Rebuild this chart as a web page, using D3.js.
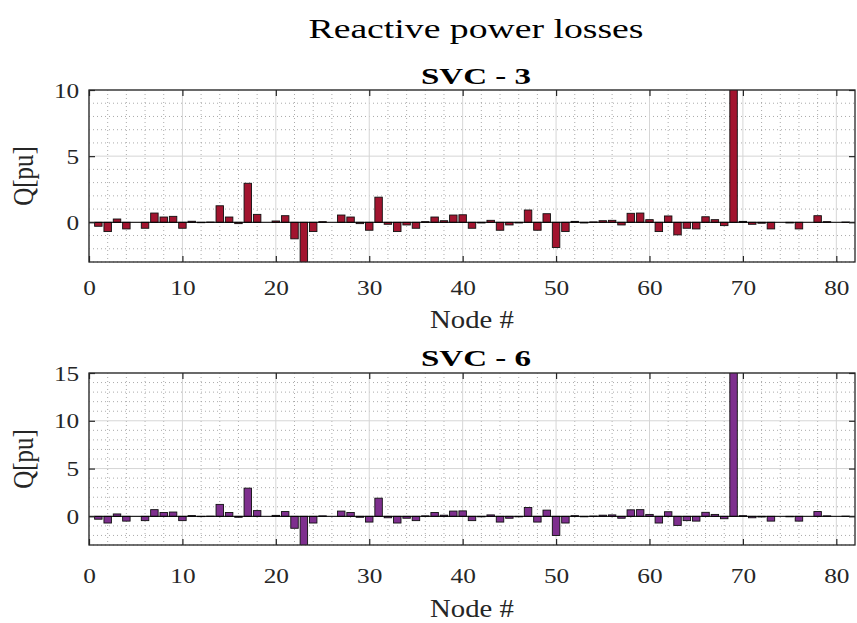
<!DOCTYPE html>
<html>
<head>
<meta charset="utf-8">
<script src="https://cdn.jsdelivr.net/npm/d3@7"></script>
<style>
  body { margin: 0; background: #fff; }
  svg text { font-family: 'Liberation Serif', 'Times New Roman', serif; }
</style>
</head>
<body>
<div id="chart"></div>
<script>
// node numbers 1..81
const nodes = d3.range(1, 82);

// reactive power losses per node
const svc3Values = [
  -0.3, -0.7, 0.25, -0.5, 0, -0.45, 0.7, 0.4, 0.45, -0.45,
  0.08, -0.03, 0.02, 1.25, 0.4, -0.1, 2.95, 0.6, 0, 0.1,
  0.5, -1.25, -3.3, -0.7, 0.05, 0, 0.55, 0.4, -0.1, -0.6,
  1.9, -0.15, -0.7, -0.2, -0.45, 0.05, 0.4, 0.12, 0.55, 0.57,
  -0.45, -0.05, 0.15, -0.6, -0.2, -0.05, 0.93, -0.6, 0.65, -1.9,
  -0.7, 0.07, -0.05, 0.03, 0.12, 0.15, -0.2, 0.68, 0.7, 0.2,
  -0.7, 0.48, -0.95, -0.45, -0.5, 0.42, 0.2, -0.25, 10.6, 0.07,
  -0.15, -0.07, -0.5, 0, -0.05, -0.5, 0, 0.5, 0.05, 0,
  0.02
];

const svc6Values = [
  -0.3, -0.7, 0.25, -0.5, 0, -0.45, 0.7, 0.4, 0.45, -0.45,
  0.08, -0.03, 0.02, 1.25, 0.4, -0.1, 2.95, 0.6, 0, 0.1,
  0.5, -1.25, -3.3, -0.7, 0.05, 0, 0.55, 0.4, -0.1, -0.6,
  1.9, -0.15, -0.7, -0.2, -0.45, 0.05, 0.4, 0.12, 0.55, 0.57,
  -0.45, -0.05, 0.15, -0.6, -0.2, -0.05, 0.93, -0.6, 0.65, -2.0,
  -0.7, 0.07, -0.05, 0.03, 0.12, 0.15, -0.2, 0.68, 0.7, 0.2,
  -0.7, 0.48, -0.95, -0.45, -0.5, 0.42, 0.2, -0.25, 15.6, 0.07,
  -0.15, -0.07, -0.5, 0, -0.05, -0.5, 0, 0.5, 0.05, 0,
  0.02
];

const xTicks = [0, 10, 20, 30, 40, 50, 60, 70, 80];
const svc3YTicks = [0, 5, 10];
const svc6YTicks = [0, 5, 10, 15];

const width = 857;
const height = 623;
const stretch = 1.15; // the reference text is a bit wide
const axisColor = '#262626';

const svg = d3.select('#chart').append('svg')
  .attr('width', width)
  .attr('height', height);

// main title
svg.append('text')
  .attr('x', 476).attr('y', 38)
  .attr('text-anchor', 'middle')
  .attr('font-size', 27)
  .attr('textLength', 335)
  .attr('lengthAdjust', 'spacingAndGlyphs')
  .text('Reactive power losses');

const x = d3.scaleLinear().domain([0, 82]).range([89, 855]);
const barWidth = 0.8 * (x(1) - x(0));

const panels = [
  { id: 'p3', title: 'SVC - 3', values: svc3Values, yDomain: [-3, 10], yTicks: svc3YTicks,
    color: '#A2142F', top: 90, bottom: 262, titleBase: 84, tickBase: 295, labelBase: 328 },
  { id: 'p6', title: 'SVC - 6', values: svc6Values, yDomain: [-3, 15], yTicks: svc6YTicks,
    color: '#7E2F8E', top: 373, bottom: 545, titleBase: 366, tickBase: 583, labelBase: 617 }
];

panels.forEach((p) => {
  const y = d3.scaleLinear().domain(p.yDomain).range([p.bottom, p.top]);
  const g = svg.append('g');
  const left = x.range()[0], right = x.range()[1];

  g.append('clipPath').attr('id', 'clip-' + p.id)
    .append('rect')
    .attr('x', left).attr('y', p.top)
    .attr('width', right - left).attr('height', p.bottom - p.top);

  // minor grid (dotted)
  const minorX = d3.range(2, 82, 2).filter((v) => v % 10 !== 0);
  const minorY = d3.range(p.yDomain[0], p.yDomain[1] + 1, 1).filter((v) => v % 5 !== 0);
  g.selectAll('.mx').data(minorX).join('line')
    .attr('x1', (d) => x(d)).attr('x2', (d) => x(d))
    .attr('y1', p.top).attr('y2', p.bottom)
    .attr('stroke', '#a0a0a0').attr('stroke-width', 0.9)
    .attr('stroke-dasharray', '1,3');
  g.selectAll('.my').data(minorY).join('line')
    .attr('x1', left).attr('x2', right)
    .attr('y1', (d) => y(d)).attr('y2', (d) => y(d))
    .attr('stroke', '#a0a0a0').attr('stroke-width', 0.9)
    .attr('stroke-dasharray', '1,3');

  // major grid
  g.selectAll('.gx').data(xTicks).join('line')
    .attr('x1', (d) => x(d)).attr('x2', (d) => x(d))
    .attr('y1', p.top).attr('y2', p.bottom)
    .attr('stroke', '#d6d6d6').attr('stroke-width', 1);
  g.selectAll('.gy').data(p.yTicks).join('line')
    .attr('x1', left).attr('x2', right)
    .attr('y1', (d) => y(d)).attr('y2', (d) => y(d))
    .attr('stroke', '#d6d6d6').attr('stroke-width', 1);

  // bars
  g.append('g').attr('clip-path', `url(#clip-${p.id})`)
    .selectAll('rect').data(nodes).join('rect')
    .attr('x', (d) => x(d) - barWidth / 2)
    .attr('width', barWidth)
    .attr('y', (d, i) => y(Math.max(0, p.values[i])))
    .attr('height', (d, i) => Math.abs(y(p.values[i]) - y(0)))
    .attr('fill', p.color)
    .attr('stroke', '#111')
    .attr('stroke-width', 0.9);

  // baseline
  g.append('line')
    .attr('x1', left).attr('x2', right)
    .attr('y1', y(0)).attr('y2', y(0))
    .attr('stroke', '#000').attr('stroke-width', 1);

  // axes, ticks pointing inward like MATLAB
  const xPad = p.tickBase - p.bottom - 0.71 * 22;
  const xAxis = g.append('g')
    .attr('transform', `translate(0,${p.bottom})`)
    .call(d3.axisBottom(x).tickValues(xTicks).tickSizeInner(-6).tickSizeOuter(0).tickPadding(xPad));
  g.append('g')
    .attr('transform', `translate(0,${p.top})`)
    .call(d3.axisTop(x).tickValues(xTicks).tickSizeInner(-6).tickSizeOuter(0).tickFormat(''));
  const yAxis = g.append('g')
    .attr('transform', `translate(${left},0)`)
    .call(d3.axisLeft(y).tickValues(p.yTicks).tickSizeInner(-6).tickSizeOuter(0).tickPadding(8.5));
  g.append('g')
    .attr('transform', `translate(${right},0)`)
    .call(d3.axisRight(y).tickValues(p.yTicks).tickSizeInner(-6).tickSizeOuter(0).tickFormat(''));

  g.selectAll('.domain').remove();
  g.selectAll('.tick line').attr('stroke', axisColor).attr('stroke-width', 1.2);
  [xAxis, yAxis].forEach((a) => a.selectAll('text')
    .attr('font-size', 22)
    .attr('fill', axisColor)
    .attr('font-family', "'Liberation Serif', serif")
    .attr('transform', `scale(${stretch},1)`));

  // box
  g.append('rect')
    .attr('x', left).attr('y', p.top)
    .attr('width', right - left).attr('height', p.bottom - p.top)
    .attr('fill', 'none')
    .attr('stroke', axisColor).attr('stroke-width', 1.3);

  // panel title
  g.append('text')
    .attr('x', 476).attr('y', p.titleBase)
    .attr('text-anchor', 'middle')
    .attr('font-size', 23).attr('font-weight', 'bold')
    .attr('textLength', 110)
    .attr('lengthAdjust', 'spacingAndGlyphs')
    .text(p.title);

  // axis labels
  g.append('text')
    .attr('transform', `translate(472,${p.labelBase}) scale(${stretch},1)`)
    .attr('text-anchor', 'middle')
    .attr('font-size', 25)
    .attr('fill', axisColor)
    .text('Node #');
  g.append('text')
    .attr('transform', `translate(23,${(p.top + p.bottom) / 2}) scale(${stretch},1) rotate(-90)`)
    .attr('text-anchor', 'middle')
    .attr('dy', '0.35em')
    .attr('font-size', 25)
    .attr('fill', axisColor)
    .text('Q[pu]');
});
</script>
</body>
</html>
